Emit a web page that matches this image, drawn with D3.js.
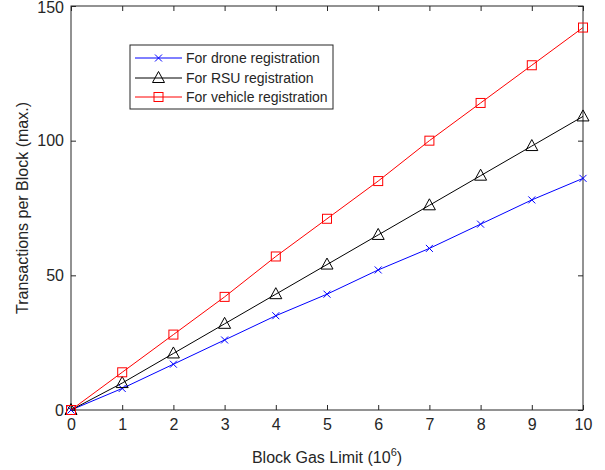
<!DOCTYPE html>
<html><head><meta charset="utf-8">
<script src="https://cdn.jsdelivr.net/npm/d3@7"></script>
<style>body{margin:0;background:#fff}svg{display:block}text{font-family:"Liberation Sans",Arial,sans-serif;fill:#262626}</style>
</head><body>
<svg id="c" width="605" height="470"></svg>
<script>
const xVals = [0,1,2,3,4,5,6,7,8,9,10];
const drone = [0,8,17,26,35,43,52,60,69,78,86];
const rsu = [0,10,21,32,43,54,65,76,87,98,109];
const vehicle = [0,14,28,42,57,71,85,100,114,128,142];
const xTicks = [0,1,2,3,4,5,6,7,8,9,10];
const yTicks = [0,50,100,150];
const seriesNames = ["For drone registration","For RSU registration","For vehicle registration"];

const svg = d3.select("#c");
const L=71, R=583, T=6, B=410;
const x = d3.scaleLinear().domain([0,10]).range([L,R]);
const y = d3.scaleLinear().domain([0,150]).range([B,T]);
const ax="#262626";

svg.append("rect").attr("x",L).attr("y",T).attr("width",R-L).attr("height",B-T).attr("fill","none").attr("stroke",ax).attr("stroke-width",1);

const tl=5;
const gx = svg.append("g").attr("transform",`translate(0,${B})`).call(d3.axisBottom(x).tickValues(xTicks).tickSize(-tl).tickPadding(9).tickFormat(d3.format("d")));
const gxt = svg.append("g").attr("transform",`translate(0,${T})`).call(d3.axisTop(x).tickValues(xTicks).tickSize(-tl).tickFormat(""));
const gy = svg.append("g").attr("transform",`translate(${L},0)`).call(d3.axisLeft(y).tickValues(yTicks).tickSize(-tl).tickPadding(7).tickFormat(d3.format("d")));
const gyr = svg.append("g").attr("transform",`translate(${R},0)`).call(d3.axisRight(y).tickValues(yTicks).tickSize(-tl).tickFormat(""));
[gx,gxt,gy,gyr].forEach(g=>{g.select(".domain").remove();g.selectAll("line").attr("stroke",ax);g.selectAll("text").style("font-size","16px").attr("fill",ax);});
gy.selectAll("text").filter(d=>d===150).attr("dy","0.42em");

svg.append("text").attr("x",(L+R)/2).attr("y",463).attr("text-anchor","middle").style("font-size","16px")
  .html('Block Gas Limit (10<tspan dy="-7" style="font-size:11px">6</tspan><tspan dy="7">)</tspan>');
svg.append("text").attr("transform",`translate(28,${(T+B)/2}) rotate(-90)`).attr("text-anchor","middle").style("font-size","16px").text("Transactions per Block (max.)");

const series=[{v:drone,c:"#0000ff",m:"x"},{v:rsu,c:"#000000",m:"tri"},{v:vehicle,c:"#ff0000",m:"sq"}];
const line=d3.line().x((d,i)=>x(xVals[i])).y(d=>y(d));
function marker(g,type,c){
  if(type==="x") g.append("path").attr("d","M-3.5,-3.5L3.5,3.5M-3.5,3.5L3.5,-3.5").attr("stroke",c).attr("fill","none");
  else if(type==="tri") g.append("path").attr("d","M0,-6.5L6,4.5L-6,4.5Z").attr("stroke",c).attr("fill","none");
  else g.append("rect").attr("x",-4.5).attr("y",-4.5).attr("width",9).attr("height",9).attr("stroke",c).attr("fill","none");
}
series.forEach(s=>{
  svg.append("path").datum(s.v).attr("d",line).attr("fill","none").attr("stroke",s.c).attr("stroke-width",1);
  s.v.forEach((d,i)=>{const g=svg.append("g").attr("transform",`translate(${x(xVals[i])},${y(d)})`);marker(g,s.m,s.c);});
});

const lg=svg.append("g");
lg.append("rect").attr("x",130).attr("y",45).attr("width",203).attr("height",64).attr("fill","#fff").attr("stroke",ax).attr("stroke-width",1);
const rows=[58,78,97];
series.forEach((s,i)=>{
  lg.append("line").attr("x1",135).attr("x2",182).attr("y1",rows[i]).attr("y2",rows[i]).attr("stroke",s.c);
  const g=lg.append("g").attr("transform",`translate(158.5,${rows[i]})`);marker(g,s.m,s.c);
  lg.append("text").attr("x",186).attr("y",rows[i]+5).style("font-size","14px").text(seriesNames[i]);
});
</script>
</body></html>
